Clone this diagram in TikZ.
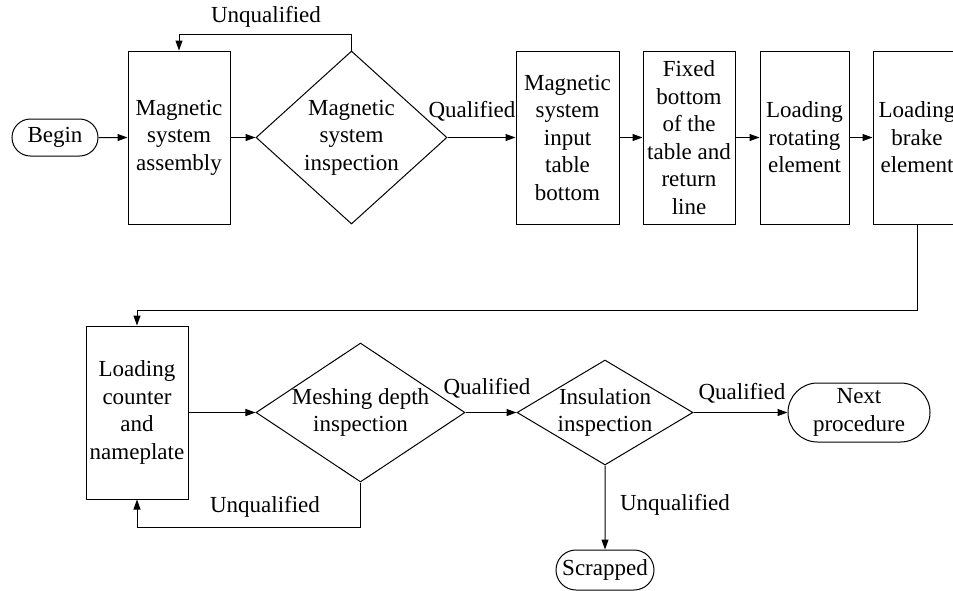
\documentclass[tikz,border=0pt]{standalone}
\usepackage{fontspec}
\setmainfont{Liberation Serif}
\usetikzlibrary{shapes.geometric,shapes.misc,arrows.meta,positioning}

\begin{document}
\begin{tikzpicture}[x=1pt,y=-1pt,font=\fontsize{23}{27.5}\selectfont,line width=1pt,
  box/.style={rectangle,draw,minimum height=173pt,inner sep=0pt,align=center},
  chk/.style={diamond,draw,inner sep=0pt},
  term/.style={rounded rectangle,draw,inner xsep=2pt,inner ysep=1pt,align=center},
  arr/.style={-{Triangle[length=10pt,width=7pt]}}]

\useasboundingbox (0,0) rectangle (953,590);

% upper row
\node[term,minimum width=90pt,minimum height=37pt] (begin) at (55,137.5) {Begin};
\node[box,minimum width=102pt] (asm) at (179,137.5) {Magnetic\\system\\assembly};
\node[chk,minimum width=191pt,minimum height=173pt] (chk1) at (351.5,137.5) {};
\node[align=center] at (chk1) {Magnetic\\system\\inspection};
\node[box,minimum width=103pt] (inp) at (567.5,137.5) {Magnetic\\system\\input\\table\\bottom};
\node[box,minimum width=92pt] (fix) at (689,137.5) {Fixed\\bottom\\of the\\table and\\return\\line};
\node[box,minimum width=89pt] (rot) at (804.5,137.5) {Loading\\rotating\\element};
\node[box,minimum width=88pt] (brk) at (917,137.5) {Loading\\brake\\element};

% lower row
\node[box,minimum width=102pt] (cnt) at (137,412.5) {Loading\\counter\\and\\nameplate};
\node[chk,minimum width=209pt,minimum height=139pt] (chk2) at (360.5,412.5) {};
\node[align=center] at (chk2) {Meshing depth\\inspection};
\node[chk,minimum width=176pt,minimum height=105pt] (chk3) at (605,412.5) {};
\node[align=center] at (chk3) {Insulation\\inspection};
\node[term,minimum width=146pt,minimum height=59pt] (next) at (859,412.5) {Next\\procedure};
\node[term,minimum width=102pt,minimum height=40pt] (scr) at (605,570) {Scrapped};

% labels
\node (uq1) at (266,17) {Unqualified};
\node (q1) at (472,111) {Qualified};
\node (q2) at (487,388) {Qualified};
\node (q3) at (742,393) {Qualified};
\node (uq2) at (265,507) {Unqualified};
\node (uq3) at (675,505) {Unqualified};

% connectors
\draw[arr] (begin) -- (asm);
\draw[arr] (asm) -- (chk1);
\draw[arr] (chk1.north) -- ++(0,-16) -| (asm.north);
\draw[arr] (chk1) -- (inp);
\draw[arr] (inp) -- (fix);
\draw[arr] (fix) -- (rot);
\draw[arr] (rot) -- (brk);
\draw[arr] (brk.south) -- ++(0,86) -| (cnt.north);
\draw[arr] (cnt) -- (chk2);
\draw[arr] (chk2.south) -- ++(0,45) -| (cnt.south);
\draw[arr] (chk2) -- (chk3);
\draw[arr] (chk3) -- (next);
\draw[arr] (chk3) -- (scr);

\end{tikzpicture}
\end{document}
